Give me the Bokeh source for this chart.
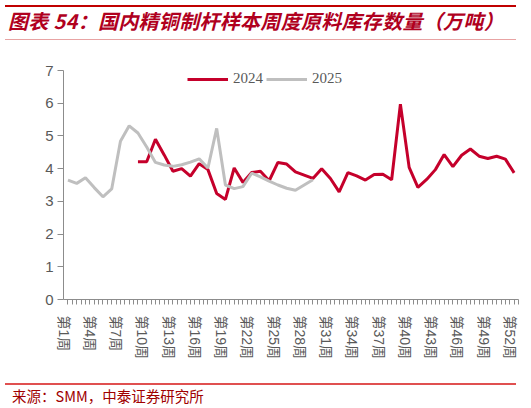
import numpy as np
from bokeh.plotting import figure
from bokeh.layouts import column
from bokeh.models import (FixedTicker, Legend, LegendItem, Range1d, ColumnDataSource, Div)
from bokeh.embed import file_html
from bokeh.resources import INLINE

# ---- data ----
weeks_2024 = list(range(9, 53))
vals_2024 = [4.21, 4.21, 4.90, 4.42, 3.92, 4.00, 3.77, 4.15, 3.97, 3.24,
             3.06, 4.02, 3.58, 3.88, 3.92, 3.63, 4.19, 4.14, 3.90, 3.80,
             3.70, 4.00, 3.70, 3.29, 3.88, 3.78, 3.65, 3.82, 3.83, 3.66,
             5.97, 4.04, 3.43, 3.67, 3.97, 4.43, 4.06, 4.41, 4.60, 4.38,
             4.31, 4.38, 4.29, 3.87]
weeks_2025 = list(range(1, 30))
vals_2025 = [3.65, 3.55, 3.72, 3.42, 3.14, 3.38, 4.84, 5.31, 5.09, 4.66,
             4.19, 4.11, 4.07, 4.12, 4.20, 4.30, 4.02, 5.23, 3.50, 3.39,
             3.45, 3.86, 3.75, 3.62, 3.50, 3.40, 3.34, 3.50, 3.66]
label_weeks = list(range(1, 53, 3))
x_tick_labels = [f"第{w}周" for w in label_weeks]
y_ticks = [0, 1, 2, 3, 4, 5, 6, 7]

title_text = "图表 54：国内精铜制杆样本周度原料库存数量（万吨）"
source_text = "来源：SMM，中泰证券研究所"

RED = "#C5002B"
GRAY = "#BFBFBF"
AXIS = "#8C8C8C"
TXT = "#595959"
W = 531

# ---- header ----
hdr = Div(width=W, height=62, margin=0, text=f"""
<div style="position:relative;width:{W}px;height:62px;">
  <div style="position:absolute;left:5px;top:5px;width:511px;height:2px;background:#C00000;"></div>
  <div style="position:absolute;left:8px;top:9px;white-space:nowrap;line-height:24px;
       font-family:'Noto Sans CJK SC';font-size:20px;letter-spacing:0.3px;font-weight:bold;
       font-style:italic;color:#B0001E;">{title_text}</div>
  <div style="position:absolute;left:5px;top:39px;width:511px;height:1px;background:#E8A3A3;"></div>
</div>""")

# ---- main chart ----
p = figure(width=W, height=313, frame_width=455, frame_height=229,
           min_border_left=63, min_border_right=13, min_border_top=8,
           min_border_bottom=76, output_backend="svg", toolbar_location=None,
           x_range=Range1d(0.49, 52.5), y_range=Range1d(0, 7))
p.outline_line_color = None
p.xgrid.visible = False
p.ygrid.visible = False

src24 = ColumnDataSource(dict(x=weeks_2024, y=vals_2024))
src25 = ColumnDataSource(dict(x=weeks_2025, y=vals_2025))
r24 = p.line("x", "y", source=src24, line_color=RED, line_width=3)
r25 = p.line("x", "y", source=src25, line_color=GRAY, line_width=3)

label_pos = [w - 0.5 for w in label_weeks]
p.xaxis.ticker = FixedTicker(ticks=label_pos,
                             minor_ticks=list(np.arange(1.0, 52.51, 0.5)))
p.xaxis.major_label_overrides = {pos: lab for pos, lab in zip(label_pos, x_tick_labels)}
p.xaxis.major_label_orientation = "vertical"
p.xaxis.major_tick_out = 0
p.xaxis.major_tick_in = 0
p.xaxis.minor_tick_out = 5
p.xaxis.minor_tick_in = 0
p.xaxis.minor_tick_line_color = AXIS
p.xaxis.axis_line_color = AXIS
p.xaxis.major_label_standoff = 11
p.xaxis.major_label_text_font = "Liberation Sans, Noto Sans CJK SC"
p.xaxis.major_label_text_font_size = "14px"
p.xaxis.major_label_text_color = TXT

p.yaxis.ticker = FixedTicker(ticks=y_ticks)
p.yaxis.major_tick_out = 6
p.yaxis.major_tick_in = 0
p.yaxis.minor_tick_line_color = None
p.yaxis.axis_line_color = AXIS
p.yaxis.major_tick_line_color = AXIS
p.yaxis.major_label_standoff = 4
p.yaxis.major_label_text_font = "Liberation Sans"
p.yaxis.major_label_text_font_size = "15px"
p.yaxis.major_label_text_color = TXT

legend = Legend(items=[LegendItem(label="2024", renderers=[r24]),
                       LegendItem(label="2025", renderers=[r25])],
                orientation="horizontal", location=(124, 212),
                padding=0, margin=0, spacing=3, glyph_width=41,
                glyph_height=16, label_height=16, label_standoff=5,
                border_line_color=None, background_fill_alpha=0,
                label_text_font="Liberation Serif", label_text_font_size="15px",
                label_text_color=TXT)
p.add_layout(legend, "center")

# ---- footer ----
ftr = Div(width=W, height=30, margin=0, text=f"""
<div style="position:relative;width:{W}px;height:30px;">
  <div style="position:absolute;left:5px;top:8px;width:511px;height:1.5px;background:#E05050;"></div>
  <div style="position:absolute;left:12px;top:12px;white-space:nowrap;line-height:18px;
       font-family:'Noto Sans CJK SC';font-size:14.5px;color:#A00000;">{source_text}</div>
</div>""")

layout = column(hdr, p, ftr, spacing=0)
open("out.html", "w").write(file_html(layout, INLINE))
